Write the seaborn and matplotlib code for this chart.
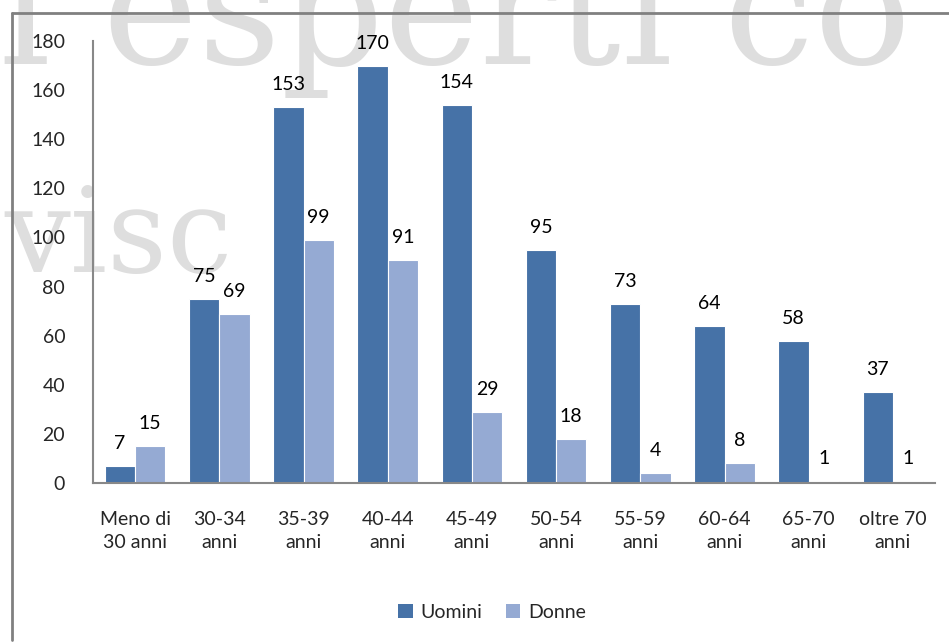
import matplotlib
matplotlib.use("Agg")
import matplotlib.pyplot as plt
from matplotlib.lines import Line2D
from matplotlib.patches import Patch
import pandas as pd
import seaborn as sns

# data
categories = ["Meno di\n30 anni", "30-34\nanni", "35-39\nanni", "40-44\nanni", "45-49\nanni",
              "50-54\nanni", "55-59\nanni", "60-64\nanni", "65-70\nanni", "oltre 70\nanni"]
uomini = [7, 75, 153, 170, 154, 95, 73, 64, 58, 37]
donne = [15, 69, 99, 91, 29, 18, 4, 8, 1, 1]
series = ["Uomini", "Donne"]
y_ticks = [0, 20, 40, 60, 80, 100, 120, 140, 160, 180]

colors = {"Uomini": "#4672A7", "Donne": "#95AAD3"}

df = pd.DataFrame({
    "categoria": categories * 2,
    "valore": uomini + donne,
    "sesso": ["Uomini"] * len(categories) + ["Donne"] * len(categories),
})

sns.set_style("white")
plt.rcParams["font.family"] = ["Lato", "DejaVu Sans"]

fig = plt.figure(figsize=(9.49, 6.42), dpi=100)
fig.patch.set_facecolor("white")

# faint watermark in the background
fig.text(0.0, 1 - 64 / 642, "l esperti co", family="DejaVu Serif", fontsize=116,
         color="#dedede", zorder=-5, ha="left", va="baseline")
fig.text(0.005, 1 - 272 / 642, "visc", family="DejaVu Serif", fontsize=84,
         color="#dedede", zorder=-5, ha="left", va="baseline")

# outer frame (top and left)
fig.add_artist(Line2D([12 / 949, 1.0], [1 - 13 / 642, 1 - 13 / 642], color="#808080",
                      lw=2, transform=fig.transFigure))
fig.add_artist(Line2D([12 / 949, 12 / 949], [1 - 13 / 642, 1 - 640 / 642], color="#808080",
                      lw=2, transform=fig.transFigure))

ax = fig.add_axes([93 / 949, 1 - 483 / 642, (935 - 93) / 949, (483 - 41) / 642])
ax.patch.set_alpha(0)

sns.barplot(data=df, x="categoria", y="valore", hue="sesso", hue_order=series,
            palette=colors, saturation=1, width=0.72, edgecolor="white", linewidth=0.8,
            ax=ax, legend=False)

for cont in ax.containers:
    ax.bar_label(cont, padding=10, fontsize=14, color="black")

ax.set_ylim(0, 180)
ax.set_xlim(-0.5, len(categories) - 0.5)
ax.set_yticks(y_ticks)
ax.set_xlabel("")
ax.set_ylabel("")
ax.tick_params(axis="y", length=0, pad=20, labelsize=14)
ax.tick_params(axis="x", length=0, pad=20, labelsize=14)
for lab in ax.get_xticklabels():
    lab.set_linespacing(1.45)

for side in ["top", "right"]:
    ax.spines[side].set_visible(False)
for side in ["left", "bottom"]:
    ax.spines[side].set_color("#888888")
    ax.spines[side].set_linewidth(1.5)

handles = [Patch(facecolor=colors[s], edgecolor="none", label=s) for s in series]
fig.legend(handles=handles, loc="center", bbox_to_anchor=(492 / 949, 1 - 612 / 642),
           ncol=2, frameon=False, fontsize=14, handlelength=0.75, handleheight=0.75,
           handletextpad=0.4, columnspacing=1.2)

fig.savefig("out.png", dpi=100)
